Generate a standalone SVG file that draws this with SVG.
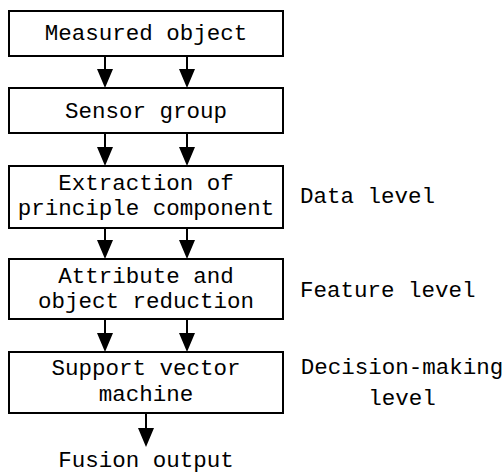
<svg xmlns="http://www.w3.org/2000/svg" width="503" height="475" viewBox="0 0 503 475">
<defs>
<style>
.box{fill:#fff;stroke:#000;stroke-width:2}
.ln{stroke:#000;stroke-width:2;fill:none}
.hd{fill:#000}
text{font-family:"Liberation Mono","DejaVu Sans Mono",monospace;font-size:22.5px;fill:#000}
.c{text-anchor:middle}
</style>
</defs>
<rect width="503" height="475" fill="#fff"/>
<g id="connectors">
<path class="ln" d="M105,56V72M187,56V72M105,133V150M187,133V150M105,228V243M187,228V243M105,319V336M187,319V336M146,413V430"/>
<path class="hd" d="M97,69H113L105,88ZM179,69H195L187,88ZM97,147H113L105,166ZM179,147H195L187,166ZM97,240H113L105,259ZM179,240H195L187,259ZM97,333H113L105,352ZM179,333H195L187,352ZM138,428H154L146,447Z"/>
</g>
<g id="n1"><rect class="box" x="9" y="11" width="274" height="45"/><text class="c" x="146" y="40">Measured object</text></g>
<g id="n2"><rect class="box" x="9" y="88" width="274" height="45"/><text class="c" x="146" y="118">Sensor group</text></g>
<g id="n3"><rect class="box" x="9" y="166" width="274" height="62"/><text class="c" x="146" y="190">Extraction of</text><text class="c" x="146" y="215">principle component</text></g>
<g id="n4"><rect class="box" x="9" y="259" width="274" height="60"/><text class="c" x="146" y="283">Attribute and</text><text class="c" x="146" y="308">object reduction</text></g>
<g id="n5"><rect class="box" x="9" y="352" width="274" height="61"/><text class="c" x="146" y="375">Support vector</text><text class="c" x="146" y="401">machine</text></g>
<g id="out"><text class="c" x="146" y="467">Fusion output</text></g>
<g id="labels">
<text x="300" y="203">Data level</text>
<text x="300" y="297">Feature level</text>
<text class="c" x="402" y="374">Decision-making</text>
<text class="c" x="402" y="405">level</text>
</g>
</svg>
